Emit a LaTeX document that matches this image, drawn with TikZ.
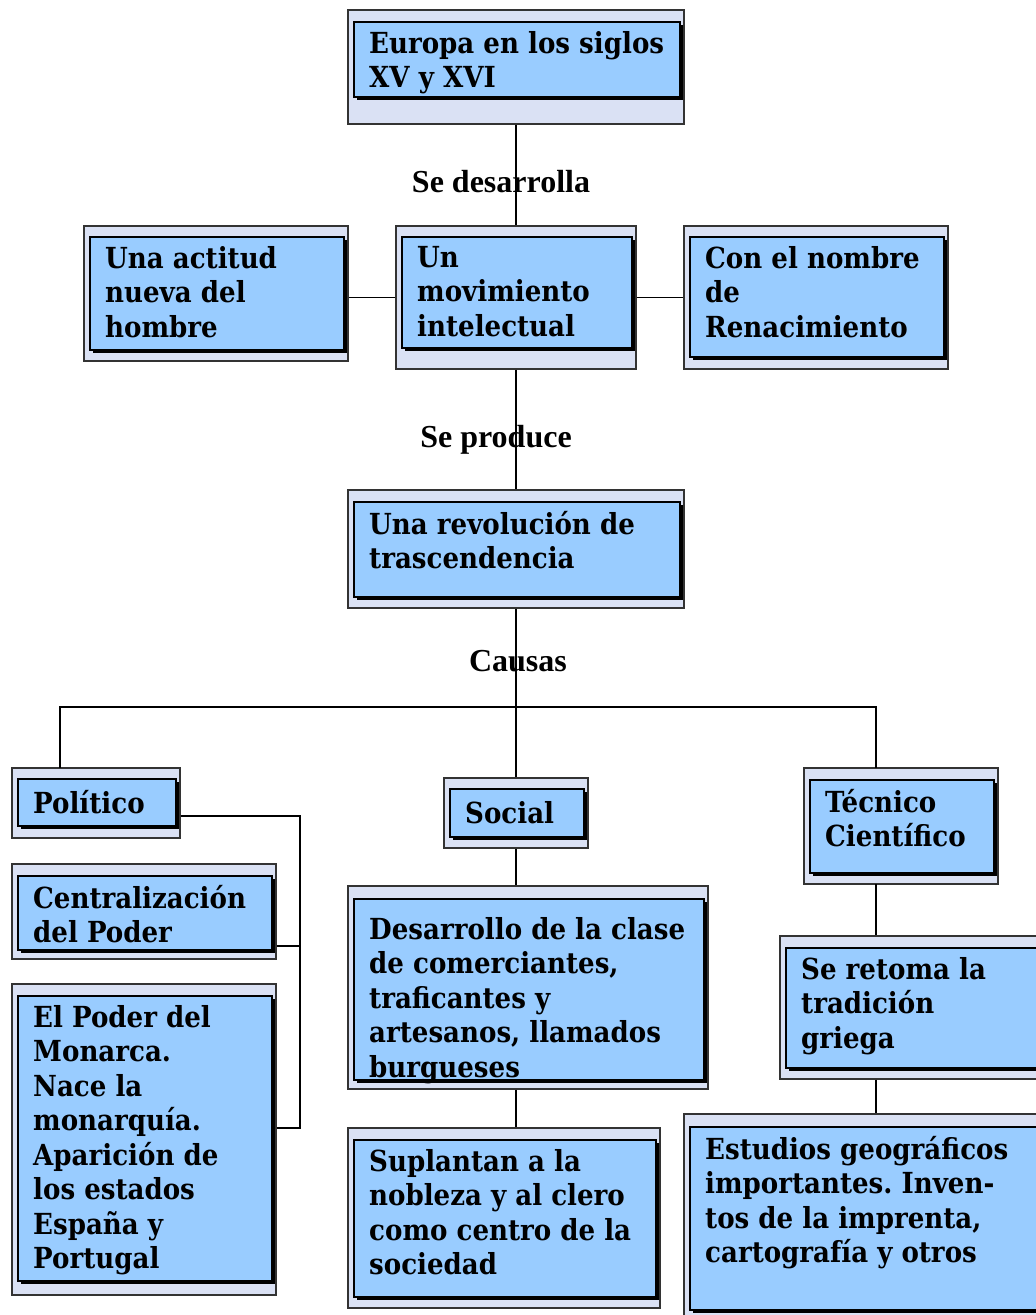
\documentclass[tikz,border=0pt]{standalone}
\usepackage{fontspec}
\setmainfont{DejaVu Serif}[FakeStretch=0.9]
\newfontfamily\linkfont{Liberation Serif}
\usetikzlibrary{positioning, fit, shadows}
\definecolor{paperblue}{RGB}{218,225,244}
\definecolor{skyblue}{RGB}{153,204,255}
\definecolor{framegray}{RGB}{51,51,51}
\frenchspacing

\begin{document}
\begin{tikzpicture}[
    x=1pt, y=-1pt,
    outerbox/.style={rectangle, draw=framegray, line width=1.3pt, fill=paperblue, inner sep=0pt},
    innerbox/.style={rectangle, draw=black, line width=1.6pt, fill=skyblue, inner sep=0pt,
                drop shadow={shadow xshift=2.5pt, shadow yshift=-2.5pt, fill=black, opacity=1}},
    boxtext/.style={anchor=north west, yshift=25pt, align=left, inner sep=0pt,
                font=\fontsize{29}{34.5}\selectfont\bfseries,
                execute at begin node={\rule{0pt}{25pt}}},
    linklabel/.style={inner sep=0pt, font=\fontsize{32}{36}\selectfont\linkfont\bfseries},
    link/.style={draw=black, line width=1.3pt}
]
    \useasboundingbox[fill=white] (0,0) rectangle (1036,1315);

    % Top
    \node[outerbox, fit={(348,10) (684,124)}] (europa) {};
    \node[innerbox, fit={(354,22) (680,97)}] (europa-in) {};
    \node[boxtext] (europa-txt) at (369,56) {Europa en los siglos\\XV y XVI};

    % Second level
    \node[outerbox, fit={(84,226) (348,361)}] (actitud) {};
    \node[innerbox, fit={(90,237) (344,350)}] (actitud-in) {};
    \node[boxtext] (actitud-txt) at (105,271) {Una actitud\\nueva del\\hombre};

    \node[outerbox, fit={(396,226) (636,369)}] (movimiento) {};
    \node[innerbox, fit={(402,237) (632,348)}] (movimiento-in) {};
    \node[boxtext] (movimiento-txt) at (417,271) {Un\\movimiento\\intelectual};

    \node[outerbox, fit={(684,226) (948,369)}] (nombre) {};
    \node[innerbox, fit={(690,237) (944,357)}] (nombre-in) {};
    \node[boxtext] (nombre-txt) at (705,271) {Con el nombre\\de\\Renacimiento};

    % Third level
    \node[outerbox, fit={(348,490) (684,608)}] (revolucion) {};
    \node[innerbox, fit={(354,502) (680,597)}] (revolucion-in) {};
    \node[boxtext] (revolucion-txt) at (369,536) {Una revolución de\\trascendencia};

    % Causes
    \node[outerbox, fit={(12,768) (180,838)}] (politico) {};
    \node[innerbox, fit={(18,779) (176,826)}] (politico-in) {};
    \node[boxtext] (politico-txt) at (33,813) {Político};

    \node[outerbox, fit={(444,778) (588,848)}] (social) {};
    \node[innerbox, fit={(450,789) (584,837)}] (social-in) {};
    \node[boxtext] (social-txt) at (465,823) {Social};

    \node[outerbox, fit={(804,768) (998,884)}] (tecnico) {};
    \node[innerbox, fit={(810,780) (994,873)}] (tecnico-in) {};
    \node[boxtext] (tecnico-txt) at (825,814) {Técnico\\Científico};

    % Political column
    \node[outerbox, fit={(12,864) (276,959)}] (central) {};
    \node[innerbox, fit={(18,876) (272,950)}] (central-in) {};
    \node[boxtext] (central-txt) at (33,910) {Centralización\\del Poder};

    \node[outerbox, fit={(12,984) (276,1295)}] (poder) {};
    \node[innerbox, fit={(18,996) (272,1281)}] (poder-in) {};
    \node[boxtext] (poder-txt) at (33,1030) {El Poder del\\Monarca.\\Nace la\\monarquía.\\Aparición de\\los estados\\España y\\Portugal};

    % Social column
    \node[outerbox, fit={(348,886) (708,1089)}] (desarrollo) {};
    \node[innerbox, fit={(354,899) (704,1080)}] (desarrollo-in) {};
    \node[boxtext] (desarrollo-txt) at (369,942) {Desarrollo de la clase\\de comerciantes,\\traficantes y\\artesanos, llamados\\burgueses};

    \node[outerbox, fit={(348,1128) (660,1308)}] (suplantan) {};
    \node[innerbox, fit={(354,1140) (656,1297)}] (suplantan-in) {};
    \node[boxtext] (suplantan-txt) at (369,1174) {Suplantan a la\\nobleza y al clero\\como centro de la\\sociedad};

    % Technical column
    \node[outerbox, fit={(780,936) (1050,1079)}] (retoma) {};
    \node[innerbox, fit={(786,948) (1050,1068)}] (retoma-in) {};
    \node[boxtext] (retoma-txt) at (801,982) {Se retoma la\\tradición\\griega};

    \node[outerbox, fit={(684,1114) (1050,1325)}] (estudios) {};
    \node[innerbox, fit={(690,1127) (1050,1310)}] (estudios-in) {};
    \node[boxtext] (estudios-txt) at (705,1161) {Estudios geográficos\\importantes. Inven-\\tos de la imprenta,\\cartografía y otros};

    % Lines
    \coordinate (split) at (516,707);
    \coordinate (tie) at (300,816);
    \coordinate (pol-up) at (60,768);
    \coordinate (tec-up) at (876,768);
    \coordinate (tec-down) at (876,884);

    \draw[link] (europa) -- (movimiento);
    \draw[link] (movimiento.west) -- (movimiento.west -| actitud.east);
    \draw[link] (movimiento) -- (nombre);
    \draw[link] (movimiento) -- (revolucion);
    \draw[link] (revolucion) -- (social);
    \draw[link] (pol-up) |- (split) -| (tec-up);
    \draw[link] (tie -| politico.east) -- (tie) -- (tie |- 0,1128) -- (poder.east |- 0,1128);
    \draw[link] (central.east |- 0,946) -- (tie |- 0,946);
    \draw[link] (social) -- (social.south |- desarrollo.north);
    \draw[link] (social.south |- desarrollo.south) -- (social.south |- suplantan.north);
    \draw[link] (tec-down) -- (tec-down |- retoma.north);
    \draw[link] (tec-down |- retoma.south) -- (tec-down |- estudios.north);

    % Labels
    \node[linklabel] (lbl-desarrolla) at (501,182) {Se desarrolla};
    \node[linklabel] (lbl-produce) at (496,440) {Se produce};
    \node[linklabel] (lbl-causas) at (518,661) {Causas};
\end{tikzpicture}
\end{document}
